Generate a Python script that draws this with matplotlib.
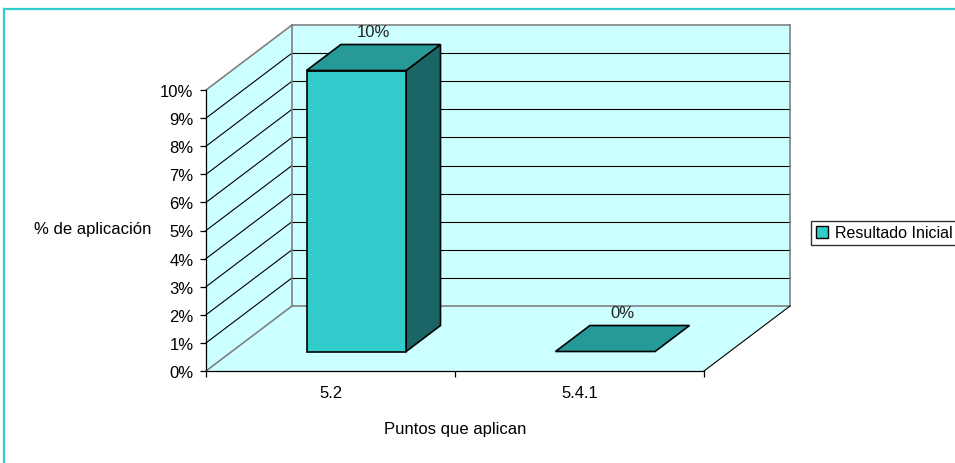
import numpy as np
import matplotlib
matplotlib.use('Agg')
import matplotlib.pyplot as plt
from matplotlib import font_manager
from matplotlib.patches import Polygon
from matplotlib.lines import Line2D

# narrow Arial-like face if there is one, else regular
names = {f.name for f in font_manager.fontManager.ttflist}
narrow = [f for f in ['Liberation Sans Narrow', 'DejaVu Sans Condensed'] if f in names]
plt.rcParams['font.family'] = narrow + ['Liberation Sans', 'DejaVu Sans']
fs = 13 if narrow else 12
fs_leg = 13 if narrow else 11.5

# data
categories = ['5.2', '5.4.1']
values = [0.10, 0.00]
series_name = 'Resultado Inicial'
y_ticks = [i / 100 for i in range(11)]

# colours (Excel 3D column look)
wall_color = '#CCFFFF'
front_color = '#33CCCC'
top_color = '#269999'
side_color = '#1A6666'
frame_color = '#808080'

W, H = 955, 464
fig = plt.figure(figsize=(W / 100, H / 100), dpi=100)

# front plane of the 3D box in pixels
x0, x1 = 206, 704
y0, y1 = 372, 91
ax = fig.add_axes([x0 / W, 1 - y0 / H, (x1 - x0) / W, (y0 - y1) / H])
ax.set_xlim(0, len(categories))
ax.set_ylim(0, 0.10)
ax.patch.set_visible(False)

# depth offset (front plane -> back wall), in data units
px_x = len(categories) / (x1 - x0)
px_y = 0.10 / (y0 - y1)
DX = 86 * px_x
DY = 65 * px_y


def P(x, v, d):
    return (x + d * DX, v + d * DY)


def poly(pts, fc, ec, lw=0.8, z=1):
    ax.add_patch(Polygon(pts, closed=True, facecolor=fc, edgecolor=ec,
                         linewidth=lw, zorder=z, clip_on=False))


def line(p, q, c, lw=0.8, z=1.5):
    ax.add_line(Line2D([p[0], q[0]], [p[1], q[1]], color=c, lw=lw,
                       zorder=z, clip_on=False))


n = len(categories)
top = y_ticks[-1]

# walls
poly([P(0, 0, 1), P(n, 0, 1), P(n, top, 1), P(0, top, 1)], wall_color, 'none')
poly([P(0, 0, 0), P(0, 0, 1), P(0, top, 1), P(0, top, 0)], wall_color, 'none')
poly([P(0, 0, 0), P(n, 0, 0), P(n, 0, 1), P(0, 0, 1)], wall_color, 'none')

# gridlines
for v in y_ticks[1:-1]:
    line(P(0, v, 0), P(0, v, 1), 'black', 0.8)
    line(P(0, v, 1), P(n, v, 1), 'black', 0.8)

# wall frames
line(P(0, 0, 0), P(0, 0, 1), frame_color, 1.2)
line(P(0, top, 0), P(0, top, 1), frame_color, 1.2)
line(P(0, 0, 1), P(n, 0, 1), frame_color, 1.2)
line(P(0, top, 1), P(n, top, 1), frame_color, 1.2)
line(P(0, 0, 1), P(0, top, 1), frame_color, 1.2)
line(P(n, 0, 1), P(n, top, 1), frame_color, 1.2)
line(P(n, 0, 0), P(n, 0, 1), 'black', 0.8)

# bars
hw = 0.2
d0, d1 = 0.3, 0.7
for i, v in enumerate(values):
    xc = i + 0.5
    if v > 0:
        poly([P(xc + hw, 0, d0), P(xc + hw, v, d0), P(xc + hw, v, d1), P(xc + hw, 0, d1)],
             side_color, 'black', 1.2, 3)
        poly([P(xc - hw, 0, d0), P(xc + hw, 0, d0), P(xc + hw, v, d0), P(xc - hw, v, d0)],
             front_color, 'black', 1.2, 3)
    poly([P(xc - hw, v, d0), P(xc + hw, v, d0), P(xc + hw, v, d1), P(xc - hw, v, d1)],
         top_color, 'black', 1.2, 3.1)
    lx, ly = P(xc, v, d1)
    ax.annotate(f'{v * 100:.0f}%', xy=(xc + 0.5 * DX, ly), xytext=(0, 9),
                textcoords='offset points', ha='center', va='center',
                fontsize=fs, color='#222222', annotation_clip=False, zorder=4)

# axes
for s in ['top', 'right']:
    ax.spines[s].set_visible(False)
for s in ['left', 'bottom']:
    ax.spines[s].set_color('black')
    ax.spines[s].set_linewidth(0.9)
    ax.spines[s].set_zorder(2.5)

ax.set_yticks(y_ticks)
ax.set_yticklabels([f'{v * 100:.0f}%' for v in y_ticks])
ax.tick_params(axis='y', direction='out', length=4, width=0.9, pad=5,
               labelsize=fs, colors='black')
ax.set_xticks(range(n + 1))
ax.set_xticklabels([])
ax.set_xticks([i + 0.5 for i in range(n)], minor=True)
ax.set_xticklabels(categories, minor=True)
ax.tick_params(axis='x', which='major', direction='out', length=4, width=0.9)
ax.tick_params(axis='x', which='minor', length=0, pad=10, labelsize=fs)

ax.set_xlabel('Puntos que aplican', fontsize=fs)
ax.xaxis.set_label_coords(0.5, (y0 - 430) / (y0 - y1))
ax.xaxis.label.set_va('center')
ax.set_ylabel('% de aplicación', fontsize=fs, rotation=0, ha='right', va='center')
ax.yaxis.set_label_coords((151 - x0) / (x1 - x0), (y0 - 230) / (y0 - y1))

# legend
handle = Line2D([], [], marker='s', linestyle='none', markersize=8,
                markerfacecolor=front_color, markeredgecolor='black', markeredgewidth=1)
leg = fig.legend([handle], [series_name], loc='center left',
                 bbox_to_anchor=(811 / W, 1 - 234 / H), fontsize=fs_leg,
                 frameon=True, fancybox=False, shadow=False, borderaxespad=0,
                 borderpad=0.3, handlelength=0.8, handletextpad=0.4)
leg.get_frame().set_edgecolor('black')
leg.get_frame().set_linewidth(1)

# outer chart frame
fig.add_artist(Line2D([4 / W, 1], [1 - 10 / H, 1 - 10 / H], color='#33CCCC', lw=1.6))
fig.add_artist(Line2D([4 / W, 4 / W], [0, 1 - 10 / H], color='#33CCCC', lw=1.6))

fig.savefig('out.png', dpi=100)
